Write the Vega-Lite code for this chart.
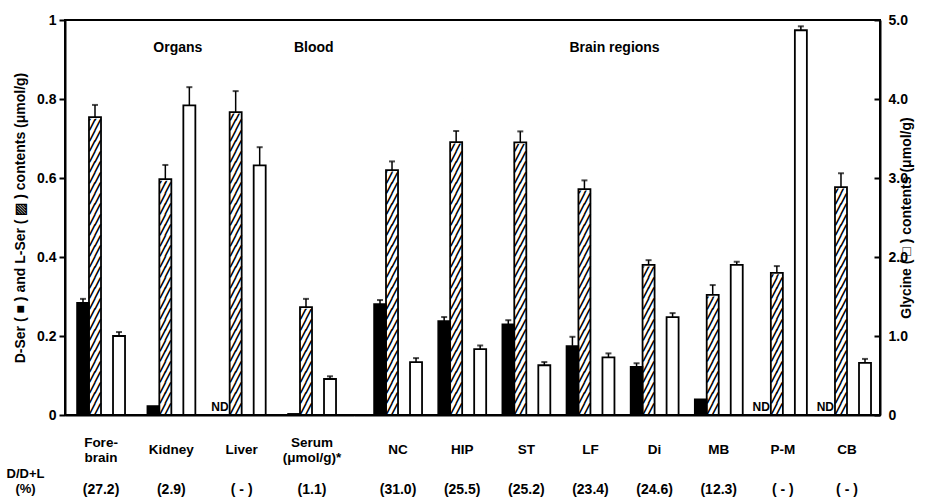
{
  "$schema": "https://vega.github.io/schema/vega-lite/v6.json",
  "width": 815,
  "height": 395,
  "autosize": {"type": "none"},
  "padding": {"left": 65, "top": 20, "right": 50, "bottom": 83},
  "background": "white",
  "config": {
    "view": {"stroke": "black", "strokeWidth": 2},
    "font": "Liberation Sans",
    "axis": {"labelFont": "Liberation Sans", "labelFontWeight": "bold", "labelColor": "black", "titleFont": "Liberation Sans", "titleFontWeight": "bold", "titleColor": "black", "domainColor": "black", "tickColor": "black", "grid": false}
  },
  "datasets": {
    "bars": [
      {"section": "Organs", "key": "Fore-|brain#(27.2)", "series": "D", "v": 0.284, "hi": 0.294},
      {"section": "Organs", "key": "Fore-|brain#(27.2)", "series": "L", "v": 0.754, "hi": 0.785},
      {"section": "Organs", "key": "Fore-|brain#(27.2)", "series": "G", "v": 1.0, "hi": 1.05},
      {"section": "Organs", "key": "Kidney#(2.9)", "series": "D", "v": 0.023, "hi": null},
      {"section": "Organs", "key": "Kidney#(2.9)", "series": "L", "v": 0.597, "hi": 0.633},
      {"section": "Organs", "key": "Kidney#(2.9)", "series": "G", "v": 3.92, "hi": 4.15},
      {"section": "Organs", "key": "Liver#( - )", "series": "D", "v": null, "hi": null},
      {"section": "Organs", "key": "Liver#( - )", "series": "L", "v": 0.767, "hi": 0.82},
      {"section": "Organs", "key": "Liver#( - )", "series": "G", "v": 3.16, "hi": 3.39},
      {"section": "Blood", "key": "Serum|(μmol/g)*#(1.1)", "series": "D", "v": 0.003, "hi": null},
      {"section": "Blood", "key": "Serum|(μmol/g)*#(1.1)", "series": "L", "v": 0.273, "hi": 0.294},
      {"section": "Blood", "key": "Serum|(μmol/g)*#(1.1)", "series": "G", "v": 0.456, "hi": 0.49},
      {"section": "Brain regions", "key": "NC#(31.0)", "series": "D", "v": 0.281, "hi": 0.291},
      {"section": "Brain regions", "key": "NC#(31.0)", "series": "L", "v": 0.62, "hi": 0.642},
      {"section": "Brain regions", "key": "NC#(31.0)", "series": "G", "v": 0.67, "hi": 0.72},
      {"section": "Brain regions", "key": "HIP#(25.5)", "series": "D", "v": 0.238, "hi": 0.248},
      {"section": "Brain regions", "key": "HIP#(25.5)", "series": "L", "v": 0.691, "hi": 0.719},
      {"section": "Brain regions", "key": "HIP#(25.5)", "series": "G", "v": 0.835, "hi": 0.88},
      {"section": "Brain regions", "key": "ST#(25.2)", "series": "D", "v": 0.23, "hi": 0.24},
      {"section": "Brain regions", "key": "ST#(25.2)", "series": "L", "v": 0.69, "hi": 0.718},
      {"section": "Brain regions", "key": "ST#(25.2)", "series": "G", "v": 0.63, "hi": 0.67},
      {"section": "Brain regions", "key": "LF#(23.4)", "series": "D", "v": 0.175, "hi": 0.198},
      {"section": "Brain regions", "key": "LF#(23.4)", "series": "L", "v": 0.572, "hi": 0.594},
      {"section": "Brain regions", "key": "LF#(23.4)", "series": "G", "v": 0.73, "hi": 0.78},
      {"section": "Brain regions", "key": "Di#(24.6)", "series": "D", "v": 0.122, "hi": 0.131},
      {"section": "Brain regions", "key": "Di#(24.6)", "series": "L", "v": 0.38, "hi": 0.392},
      {"section": "Brain regions", "key": "Di#(24.6)", "series": "G", "v": 1.24, "hi": 1.29},
      {"section": "Brain regions", "key": "MB#(12.3)", "series": "D", "v": 0.04, "hi": null},
      {"section": "Brain regions", "key": "MB#(12.3)", "series": "L", "v": 0.304, "hi": 0.329},
      {"section": "Brain regions", "key": "MB#(12.3)", "series": "G", "v": 1.9, "hi": 1.94},
      {"section": "Brain regions", "key": "P-M#( - )", "series": "D", "v": null, "hi": null},
      {"section": "Brain regions", "key": "P-M#( - )", "series": "L", "v": 0.36, "hi": 0.377},
      {"section": "Brain regions", "key": "P-M#( - )", "series": "G", "v": 4.87, "hi": 4.92},
      {"section": "Brain regions", "key": "CB#( - )", "series": "D", "v": null, "hi": null},
      {"section": "Brain regions", "key": "CB#( - )", "series": "L", "v": 0.577, "hi": 0.612},
      {"section": "Brain regions", "key": "CB#( - )", "series": "G", "v": 0.66, "hi": 0.71}
    ],
    "groups": [
      {"key": "Kidney#(2.9)", "label": "Organs", "y": 0.93},
      {"key": "Serum|(μmol/g)*#(1.1)", "label": "Blood", "y": 0.93},
      {"key": "LF#(23.4)", "label": "Brain regions", "y": 0.93}
    ]
  },
  "encoding": {
    "xOffset": {"field": "series", "type": "nominal", "scale": {"domain": ["D", "L", "gap", "G"], "paddingInner": 0, "paddingOuter": 0}}
  },
  "layer": [
    {
      "data": {"name": "bars"},
      "transform": [{"filter": "datum.section != 'Brain regions'"}],
      "layer": [
        {
          "transform": [{"filter": "datum.series == 'L'"}],
          "mark": {
            "type": "text", "baseline": "top", "align": "center", "dy": -315,
            "font": "DejaVu Sans Mono", "fontWeight": "bold", "fontSize": 9, "lineHeight": 10.5, "color": "black", "stroke": "black", "strokeWidth": 0.7,
            "text": ["╱╱","╱╱","╱╱","╱╱","╱╱","╱╱","╱╱","╱╱","╱╱","╱╱","╱╱","╱╱","╱╱","╱╱","╱╱","╱╱","╱╱","╱╱","╱╱","╱╱","╱╱","╱╱","╱╱","╱╱","╱╱","╱╱","╱╱","╱╱","╱╱","╱╱"]
          },
          "encoding": {
            "x": {
              "field": "key", "type": "nominal",
              "scale": {"domain": ["Fore-|brain#(27.2)", "Kidney#(2.9)", "Liver#( - )", "Serum|(μmol/g)*#(1.1)"], "range": [0, 289], "paddingInner": 0.317, "paddingOuter": 0.213, "align": 0.4},
              "axis": {
                "orient": "bottom", "title": null, "ticks": false, "domain": true, "domainWidth": 2,
                "labelAngle": 0, "labelBaseline": "middle",
                "labelPadding": {"condition": {"test": "indexof(datum.value, '|') >= 0", "value": 27}, "value": 34},
                "labelFontSize": 13.5, "labelLineHeight": 15,
                "labelExpr": "split(split(datum.value, '#')[0], '|')"
              }
            },
            "y": {
              "datum": 0, "type": "quantitative",
              "scale": {"domain": [0, 1], "nice": false},
              "axis": {
                "values": [0, 0.2, 0.4, 0.6, 0.8, 1],
                "labelExpr": "datum.value == 0 ? '0' : datum.value == 1 ? '1' : format(datum.value, '.1f')",
                "labelFontSize": 14, "tickSize": 6, "tickWidth": 2, "domainWidth": 2, "labelPadding": 3,
                "title": "D-Ser (  ■  ) and L-Ser (  ▨  ) contents (μmol/g)",
                "titleFontSize": 14, "titlePadding": 9
              }
            }
          }
        },
        {
          "transform": [{"filter": "datum.series == 'L'"}],
          "mark": {"type": "bar", "fill": "white", "stroke": "white", "strokeWidth": 3},
          "encoding": {
            "x": {"field": "key", "type": "nominal"},
            "y": {"field": "v", "type": "quantitative"},
            "y2": {"datum": 0.82}
          }
        },
        {
          "transform": [{"filter": "datum.series == 'D'"}],
          "mark": {"type": "bar", "fill": "black", "stroke": "black", "strokeWidth": 1.5},
          "encoding": {
            "x": {"field": "key", "type": "nominal"},
            "y": {"field": "v", "type": "quantitative"}
          }
        },
        {
          "transform": [{"filter": "datum.series == 'L'"}],
          "mark": {"type": "bar", "fill": null, "fillOpacity": 0, "stroke": "black", "strokeWidth": 1.8},
          "encoding": {
            "x": {"field": "key", "type": "nominal"},
            "y": {"field": "v", "type": "quantitative"}
          }
        },
        {
          "transform": [{"filter": "datum.series != 'G' && datum.hi != null"}],
          "mark": {"type": "rule", "color": "black", "strokeWidth": 1.5},
          "encoding": {
            "x": {"field": "key", "type": "nominal"},
            "y": {"field": "v", "type": "quantitative"},
            "y2": {"field": "hi"}
          }
        },
        {
          "transform": [{"filter": "datum.series != 'G' && datum.hi != null"}],
          "mark": {"type": "tick", "orient": "horizontal", "color": "black", "size": 6, "thickness": 2},
          "encoding": {
            "x": {"field": "key", "type": "nominal"},
            "y": {"field": "hi", "type": "quantitative"}
          }
        },
        {
          "transform": [{"filter": "datum.series == 'D' && datum.v == null"}],
          "mark": {"type": "text", "text": "ND", "fontWeight": "bold", "fontSize": 12, "color": "black", "align": "right", "baseline": "bottom", "dx": 5, "dy": -1},
          "encoding": {
            "x": {"field": "key", "type": "nominal"},
            "y": {"datum": 0, "type": "quantitative"}
          }
        },
        {
          "data": {"name": "groups"},
          "transform": [{"filter": "datum.label != 'Brain regions'"}],
          "mark": {"type": "text", "fontWeight": "bold", "fontSize": 14, "color": "black", "align": "left", "baseline": "middle", "dx": 6},
          "encoding": {
            "x": {"field": "key", "type": "nominal"},
            "xOffset": {"value": 0},
            "y": {"field": "y", "type": "quantitative"},
            "text": {"field": "label"}
          }
        }
      ]
    },
    {
      "data": {"name": "bars"},
      "transform": [{"filter": "datum.section != 'Brain regions' && datum.series == 'G'"}],
      "layer": [
        {
          "mark": {"type": "bar", "fill": "white", "stroke": "black", "strokeWidth": 1.8},
          "encoding": {
            "x": {
              "field": "key", "type": "nominal",
              "scale": {"domain": ["Fore-|brain#(27.2)", "Kidney#(2.9)", "Liver#( - )", "Serum|(μmol/g)*#(1.1)"], "range": [0, 289], "paddingInner": 0.317, "paddingOuter": 0.213, "align": 0.4},
              "axis": {
                "orient": "bottom",
                "title": ["D/D+L", "(%)"], "titleFontSize": 13, "titleLineHeight": 15,
                "titleX": -40, "titleY": 52, "titleAlign": "center", "titleBaseline": "top", "titleAngle": 0,
                "ticks": false, "domain": false,
                "labelAngle": 0, "labelPadding": 74, "labelBaseline": "middle",
                "labelFontSize": 14,
                "labelExpr": "split(datum.value, '#')[1]"
              }
            },
            "y": {"field": "v", "type": "quantitative", "scale": {"domain": [0, 5], "nice": false}, "axis": null}
          }
        },
        {
          "transform": [{"filter": "datum.hi != null"}],
          "mark": {"type": "rule", "color": "black", "strokeWidth": 1.5},
          "encoding": {
            "x": {"field": "key", "type": "nominal"},
            "y": {"field": "v", "type": "quantitative", "axis": null},
            "y2": {"field": "hi"}
          }
        },
        {
          "transform": [{"filter": "datum.hi != null"}],
          "mark": {"type": "tick", "orient": "horizontal", "color": "black", "size": 6, "thickness": 2},
          "encoding": {
            "x": {"field": "key", "type": "nominal"},
            "y": {"field": "hi", "type": "quantitative", "axis": null}
          }
        }
      ]
    },
    {
      "data": {"name": "bars"},
      "transform": [{"filter": "datum.section == 'Brain regions'"}],
      "layer": [
        {
          "transform": [{"filter": "datum.series == 'L'"}],
          "mark": {
            "type": "text", "baseline": "top", "align": "center", "dy": -315,
            "font": "DejaVu Sans Mono", "fontWeight": "bold", "fontSize": 9, "lineHeight": 10.5, "color": "black", "stroke": "black", "strokeWidth": 0.7,
            "text": ["╱╱","╱╱","╱╱","╱╱","╱╱","╱╱","╱╱","╱╱","╱╱","╱╱","╱╱","╱╱","╱╱","╱╱","╱╱","╱╱","╱╱","╱╱","╱╱","╱╱","╱╱","╱╱","╱╱","╱╱","╱╱","╱╱","╱╱","╱╱","╱╱","╱╱"]
          },
          "encoding": {
            "x": {
              "field": "key", "type": "nominal",
              "scale": {"domain": ["NC#(31.0)", "HIP#(25.5)", "ST#(25.2)", "LF#(23.4)", "Di#(24.6)", "MB#(12.3)", "P-M#( - )", "CB#( - )"], "range": [289, 815], "paddingInner": 0.251, "paddingOuter": 0.226, "align": 0.69},
              "axis": {
                "orient": "bottom", "title": null, "ticks": false, "domain": true, "domainWidth": 2,
                "labelAngle": 0, "labelBaseline": "middle", "labelPadding": 34,
                "labelFontSize": 13.5,
                "labelExpr": "split(datum.value, '#')[0]"
              }
            },
            "y": {"datum": 0, "type": "quantitative", "scale": {"domain": [0, 1], "nice": false}, "axis": null}
          }
        },
        {
          "transform": [{"filter": "datum.series == 'L'"}],
          "mark": {"type": "bar", "fill": "white", "stroke": "white", "strokeWidth": 3},
          "encoding": {
            "x": {"field": "key", "type": "nominal"},
            "y": {"field": "v", "type": "quantitative", "axis": null},
            "y2": {"datum": 0.82}
          }
        },
        {
          "transform": [{"filter": "datum.series == 'D'"}],
          "mark": {"type": "bar", "fill": "black", "stroke": "black", "strokeWidth": 1.5},
          "encoding": {
            "x": {"field": "key", "type": "nominal"},
            "y": {"field": "v", "type": "quantitative", "axis": null}
          }
        },
        {
          "transform": [{"filter": "datum.series == 'L'"}],
          "mark": {"type": "bar", "fill": null, "fillOpacity": 0, "stroke": "black", "strokeWidth": 1.8},
          "encoding": {
            "x": {"field": "key", "type": "nominal"},
            "y": {"field": "v", "type": "quantitative", "axis": null}
          }
        },
        {
          "transform": [{"filter": "datum.series != 'G' && datum.hi != null"}],
          "mark": {"type": "rule", "color": "black", "strokeWidth": 1.5},
          "encoding": {
            "x": {"field": "key", "type": "nominal"},
            "y": {"field": "v", "type": "quantitative", "axis": null},
            "y2": {"field": "hi"}
          }
        },
        {
          "transform": [{"filter": "datum.series != 'G' && datum.hi != null"}],
          "mark": {"type": "tick", "orient": "horizontal", "color": "black", "size": 6, "thickness": 2},
          "encoding": {
            "x": {"field": "key", "type": "nominal"},
            "y": {"field": "hi", "type": "quantitative", "axis": null}
          }
        },
        {
          "transform": [{"filter": "datum.series == 'D' && datum.v == null"}],
          "mark": {"type": "text", "text": "ND", "fontWeight": "bold", "fontSize": 12, "color": "black", "align": "right", "baseline": "bottom", "dx": 5, "dy": -1},
          "encoding": {
            "x": {"field": "key", "type": "nominal"},
            "y": {"datum": 0, "type": "quantitative", "axis": null}
          }
        },
        {
          "data": {"name": "groups"},
          "transform": [{"filter": "datum.label == 'Brain regions'"}],
          "mark": {"type": "text", "fontWeight": "bold", "fontSize": 14, "color": "black", "align": "left", "baseline": "middle", "dx": 3},
          "encoding": {
            "x": {"field": "key", "type": "nominal"},
            "xOffset": {"value": 0},
            "y": {"field": "y", "type": "quantitative", "axis": null},
            "text": {"field": "label"}
          }
        }
      ]
    },
    {
      "data": {"name": "bars"},
      "transform": [{"filter": "datum.section == 'Brain regions' && datum.series == 'G'"}],
      "layer": [
        {
          "mark": {"type": "bar", "fill": "white", "stroke": "black", "strokeWidth": 1.8},
          "encoding": {
            "x": {
              "field": "key", "type": "nominal",
              "scale": {"domain": ["NC#(31.0)", "HIP#(25.5)", "ST#(25.2)", "LF#(23.4)", "Di#(24.6)", "MB#(12.3)", "P-M#( - )", "CB#( - )"], "range": [289, 815], "paddingInner": 0.251, "paddingOuter": 0.226, "align": 0.69},
              "axis": {
                "orient": "bottom", "title": null,
                "ticks": false, "domain": false,
                "labelAngle": 0, "labelPadding": 74, "labelBaseline": "middle",
                "labelFontSize": 14,
                "labelExpr": "split(datum.value, '#')[1]"
              }
            },
            "y": {
              "field": "v", "type": "quantitative",
              "scale": {"domain": [0, 5], "nice": false},
              "axis": {
                "orient": "right",
                "values": [0, 1, 2, 3, 4, 5],
                "labelExpr": "datum.value == 0 ? '0' : format(datum.value, '.1f')",
                "labelFontSize": 14, "tickSize": -6, "tickWidth": 2, "domainWidth": 2, "labelPadding": 14,
                "title": "Glycine (  □  ) contents (μmol/g)", "titleAngle": 270,
                "titleFontSize": 14, "titlePadding": 6
              }
            }
          }
        },
        {
          "transform": [{"filter": "datum.hi != null"}],
          "mark": {"type": "rule", "color": "black", "strokeWidth": 1.5},
          "encoding": {
            "x": {"field": "key", "type": "nominal"},
            "y": {"field": "v", "type": "quantitative"},
            "y2": {"field": "hi"}
          }
        },
        {
          "transform": [{"filter": "datum.hi != null"}],
          "mark": {"type": "tick", "orient": "horizontal", "color": "black", "size": 6, "thickness": 2},
          "encoding": {
            "x": {"field": "key", "type": "nominal"},
            "y": {"field": "hi", "type": "quantitative"}
          }
        }
      ]
    }
  ],
  "resolve": {"scale": {"x": "independent", "y": "independent"}, "axis": {"x": "independent", "y": "independent"}}
}
